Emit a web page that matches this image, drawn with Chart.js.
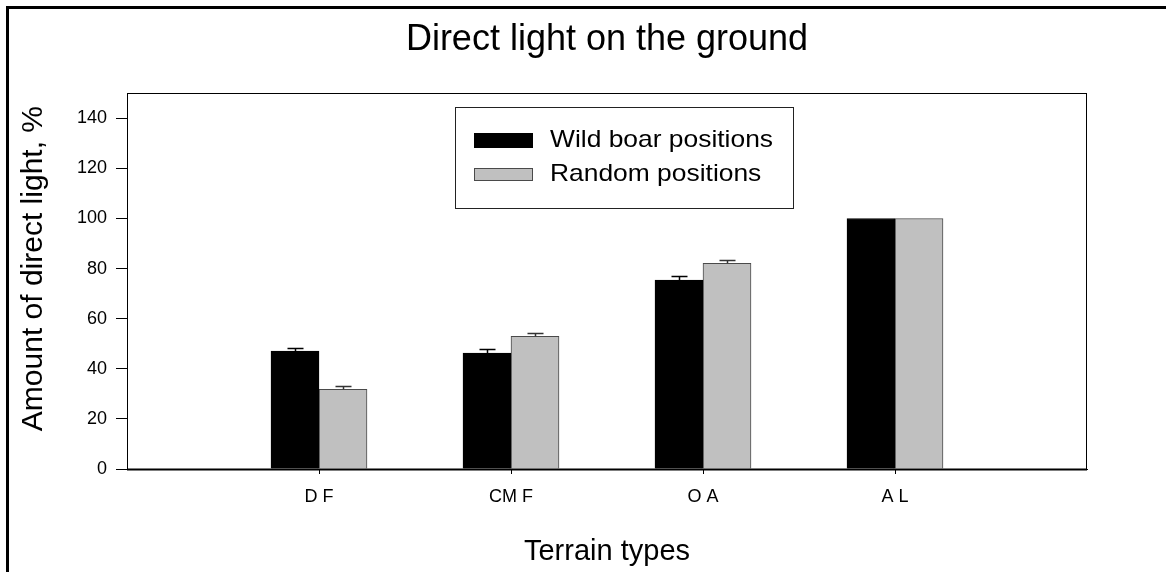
<!DOCTYPE html>
<html>
<head>
<meta charset="utf-8">
<script src="https://cdn.jsdelivr.net/npm/chart.js@4.4.0/dist/chart.umd.min.js"></script>
<style>
html,body{margin:0;padding:0;background:#fff;}
#wrap{width:1166px;height:572px;position:relative;}
</style>
</head>
<body>
<div id="wrap"><canvas id="c" width="1166" height="572"></canvas></div>
<script>
// ---- data ----
const categories = ['', 'D F', 'CM F', 'O A', 'A L', ''];
const seriesNames = ['Wild boar positions', 'Random positions'];
const wildBoar = [null, 47.1, 46.3, 75.4, 100, null];
const wildBoarErr = [null, 1.2, 1.4, 1.5, 0, null];
const randomPos = [null, 31.8, 53.0, 82.1, 100, null];
const randomErr = [null, 1.2, 1.3, 1.4, 0, null];
const yTicks = [0, 20, 40, 60, 80, 100, 120, 140];
const chartTitle = 'Direct light on the ground';
const xTitle = 'Terrain types';
const yTitle = 'Amount of direct light, %';

const FONT = '"Liberation Sans", Arial, Helvetica, sans-serif';

const pageFrame = {
  id: 'pageFrame',
  beforeDraw(chart) {
    const c = chart.ctx;
    c.save();
    c.fillStyle = '#fff';
    c.fillRect(0, 0, chart.width, chart.height);
    c.fillStyle = '#000';
    c.fillRect(6, 6, chart.width - 6, 3);
    c.fillRect(6, 6, 3, chart.height - 6);
    c.restore();
  },
  afterDatasetsDraw(chart) {
    const {left, top, right, bottom} = chart.chartArea;
    const c = chart.ctx;
    c.save();
    c.strokeStyle = '#000';
    c.lineWidth = 1;
    c.strokeRect(Math.round(left) + 0.5, Math.round(top) + 0.5,
                 Math.round(right - left) - 1, Math.round(bottom - top));
    c.lineWidth = 2;
    c.beginPath();
    c.moveTo(left, Math.round(bottom) + 0.5);
    c.lineTo(right, Math.round(bottom) + 0.5);
    c.stroke();
    c.restore();
  }
};

// y-axis title, drawn slightly above the axis centre as in the reference
const yAxisTitle = {
  id: 'yAxisTitle',
  afterDraw(chart) {
    const c = chart.ctx;
    const ys = chart.scales.y;
    c.save();
    c.fillStyle = '#000';
    c.font = '30px ' + FONT;
    c.textAlign = 'center';
    c.textBaseline = 'middle';
    c.translate(34, ys.getPixelForValue(80));
    c.rotate(-Math.PI / 2);
    c.fillText(yTitle, 0, 0);
    c.restore();
  }
};

const errorBars = {
  id: 'errorBars',
  afterDatasetsDraw(chart) {
    const c = chart.ctx;
    const ys = chart.scales.y;
    chart.data.datasets.forEach((ds, i) => {
      const errs = ds.errors;
      if (!errs) return;
      const meta = chart.getDatasetMeta(i);
      meta.data.forEach((bar, j) => {
        const v = ds.data[j], e = errs[j];
        if (v == null || !e) return;
        const x = Math.round(bar.x) + 0.5;
        const y0 = ys.getPixelForValue(v);
        const y1 = Math.round(ys.getPixelForValue(v + e)) + 0.5;
        c.save();
        c.strokeStyle = ds.errorColor;
        c.lineWidth = 1.5;
        c.beginPath();
        c.moveTo(x, y0);
        c.lineTo(x, y1);
        c.moveTo(x - 8, y1);
        c.lineTo(x + 8, y1);
        c.stroke();
        c.restore();
      });
    });
  }
};

const boxLegend = {
  id: 'boxLegend',
  afterDraw(chart) {
    const c = chart.ctx;
    c.save();
    c.strokeStyle = '#222';
    c.lineWidth = 1;
    c.strokeRect(455.5, 107.5, 338, 101);
    chart.data.datasets.forEach((ds, i) => {
      const cy = 140.5 + i * 34;
      const h = i === 0 ? 15 : 13;
      c.fillStyle = ds.backgroundColor;
      c.fillRect(474, cy - h / 2, 59, h);
      c.strokeStyle = ds.borderColor;
      c.lineWidth = 1;
      c.strokeRect(474.5, Math.round(cy - h / 2) + 0.5, 58, h - 1);
      c.save();
      c.fillStyle = '#000';
      c.font = '24px ' + FONT;
      c.textBaseline = 'middle';
      c.textAlign = 'left';
      c.translate(550, cy);
      c.scale(1.1, 1);
      c.fillText(ds.label, 0, 0);
      c.restore();
    });
    c.restore();
  }
};

new Chart(document.getElementById('c'), {
  type: 'bar',
  data: {
    labels: categories,
    datasets: [
      {
        label: seriesNames[0],
        data: wildBoar,
        errors: wildBoarErr,
        errorColor: '#000',
        backgroundColor: '#000000',
        borderColor: '#000000',
        borderWidth: 1,
        barThickness: 48
      },
      {
        label: seriesNames[1],
        data: randomPos,
        errors: randomErr,
        errorColor: '#333',
        backgroundColor: '#c0c0c0',
        borderColor: '#4a4a4a',
        borderWidth: 1,
        barThickness: 48
      }
    ]
  },
  options: {
    responsive: false,
    animation: false,
    devicePixelRatio: 1,
    layout: {padding: {left: 0, right: 79, top: 0, bottom: 0}},
    plugins: {
      legend: {display: false},
      tooltip: {enabled: false},
      title: {
        display: true,
        fullSize: false,
        text: chartTitle,
        color: '#000',
        font: {family: FONT, size: 36, weight: 'normal'},
        padding: {top: 18, bottom: 32}
      }
    },
    scales: {
      x: {
        type: 'category',
        offset: false,
        grid: {
          display: true,
          offset: false,
          drawOnChartArea: false,
          drawTicks: true,
          tickLength: 5,
          tickColor: (ctx) => (categories[ctx.index] ? '#000' : 'rgba(0,0,0,0)'),
          color: '#000'
        },
        border: {display: true, color: '#000', width: 1},
        ticks: {
          color: '#000',
          font: {family: FONT, size: 18},
          padding: 12,
          maxRotation: 0,
          autoSkip: false
        },
        title: {
          display: true,
          text: xTitle,
          color: '#000',
          font: {family: FONT, size: 29},
          padding: {top: 0, bottom: 3}
        },
        afterFit(s) { s.height = 103; }
      },
      y: {
        type: 'linear',
        min: 0,
        max: 150,
        afterBuildTicks(s) { s.ticks = yTicks.map(v => ({value: v})); },
        grid: {
          display: true,
          drawOnChartArea: false,
          drawTicks: true,
          tickLength: 11,
          color: '#000',
          tickColor: '#000'
        },
        border: {display: true, color: '#000', width: 1},
        ticks: {
          color: '#000',
          font: {family: FONT, size: 18},
          padding: 9
        },
        title: {display: false},
        afterFit(s) { s.width = 127; }
      }
    }
  },
  plugins: [pageFrame, errorBars, boxLegend, yAxisTitle]
});
</script>
</body>
</html>
